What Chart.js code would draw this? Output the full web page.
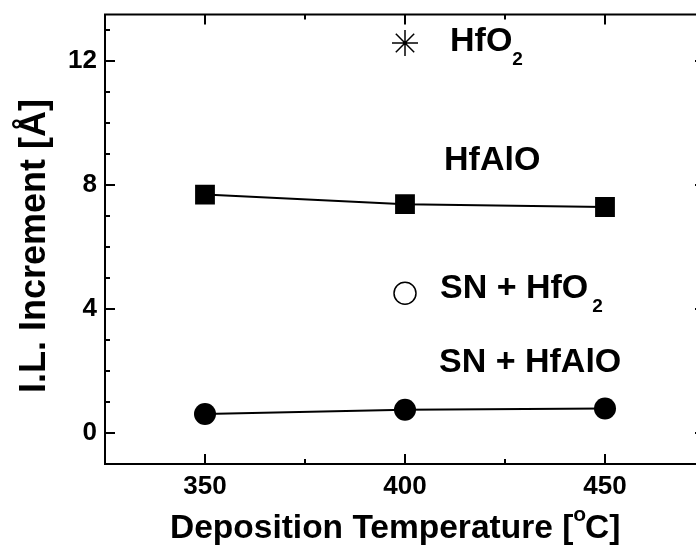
<!DOCTYPE html>
<html>
<head>
<meta charset="utf-8">
<script src="https://cdn.jsdelivr.net/npm/chart.js@4/dist/chart.umd.min.js"></script>
<style>
  html, body { margin: 0; padding: 0; background: #fff; overflow: hidden; }
  #wrap { position: relative; width: 720px; height: 549px; }
</style>
</head>
<body>
<div id="wrap"><canvas id="c" width="720" height="549"></canvas></div>
<script>
// Interfacial layer increment vs. deposition temperature
const temperatures = [350, 400, 450];
const hfAlO = [7.69, 7.38, 7.29];
const snHfAlO = [0.61, 0.75, 0.79];
const hfO2Temps = [400];
const hfO2 = [12.58];
const snHfO2Temps = [400];
const snHfO2 = [4.51];

const xTicks = [350, 400, 450];
const xMinorTicks = [375, 425];
const yTicks = [0, 4, 8, 12];
const yMinorTicks = [1, 2, 3, 5, 6, 7, 9, 10, 11, 13];

const FONT = 'Liberation Sans, Arial, Helvetica, sans-serif';

function pts(xs, ys) { return xs.map((x, i) => ({ x: x, y: ys[i] })); }

// Box frame with inward major/minor ticks on all four sides
const framePlugin = {
  id: 'frame',
  beforeDatasetsDraw(chart) {
    const { ctx, chartArea: a, scales: { x, y } } = chart;
    ctx.save();
    ctx.strokeStyle = '#000';
    ctx.lineWidth = 2;
    ctx.strokeRect(a.left, a.top, a.right - a.left, a.bottom - a.top);
    ctx.beginPath();
    const xt = (v, len) => {
      const px = x.getPixelForValue(v);
      ctx.moveTo(px, a.bottom); ctx.lineTo(px, a.bottom - len);
      ctx.moveTo(px, a.top); ctx.lineTo(px, a.top + len);
    };
    const yt = (v, len) => {
      const py = y.getPixelForValue(v);
      ctx.moveTo(a.left, py); ctx.lineTo(a.left + len, py);
      ctx.moveTo(a.right, py); ctx.lineTo(a.right - len, py);
    };
    xTicks.forEach(v => xt(v, 10));
    xMinorTicks.forEach(v => xt(v, 5));
    yTicks.forEach(v => yt(v, 10));
    yMinorTicks.forEach(v => yt(v, 5));
    ctx.stroke();
    ctx.restore();
  }
};

// Series labels and axis titles (with sub/superscripts)
function drawRuns(ctx, x, y, runs) {
  let cx = x;
  runs.forEach(r => {
    ctx.font = 'bold ' + r.size + 'px ' + FONT;
    ctx.fillText(r.t, cx, y + (r.dy || 0));
    cx += ctx.measureText(r.t).width + (r.gap || 0);
  });
}

const textPlugin = {
  id: 'texts',
  afterDraw(chart) {
    const { ctx, scales: { x, y } } = chart;
    ctx.save();
    ctx.fillStyle = '#000';
    ctx.textBaseline = 'alphabetic';
    ctx.textAlign = 'left';
    const lx = x.getPixelForValue(400) + 40;

    drawRuns(ctx, lx + 5, y.getPixelForValue(hfO2[0]) + 8, [
      { t: 'HfO', size: 34 }, { t: '2', size: 19, dy: 14 }
    ]);
    drawRuns(ctx, lx - 1, y.getPixelForValue(hfAlO[1]) - 34, [
      { t: 'HfAlO', size: 34 }
    ]);
    drawRuns(ctx, lx - 5, y.getPixelForValue(snHfO2[0]) + 5, [
      { t: 'SN + HfO', size: 34, gap: 4 }, { t: '2', size: 19, dy: 14 }
    ]);
    drawRuns(ctx, lx - 6, y.getPixelForValue(snHfAlO[1]) - 38, [
      { t: 'SN + HfAlO', size: 34 }
    ]);

    // x-axis title
    drawRuns(ctx, 170, 538, [
      { t: 'Deposition Temperature [', size: 33.5 },
      { t: 'o', size: 21, dy: -17, gap: -1 },
      { t: 'C]', size: 33.5 }
    ]);

    // y-axis title
    ctx.translate(45, 393);
    ctx.rotate(-Math.PI / 2);
    drawRuns(ctx, 0, 0, [{ t: 'I.L. Increment [Å]', size: 36 }]);
    ctx.restore();
  }
};

const tickFont = { family: FONT, size: 26, weight: 'bold' };

new Chart(document.getElementById('c'), {
  type: 'scatter',
  data: {
    datasets: [
      {
        label: 'HfAlO',
        data: pts(temperatures, hfAlO),
        showLine: true,
        borderColor: '#000',
        borderWidth: 2,
        backgroundColor: '#000',
        pointStyle: 'rect',
        pointRadius: 14,
        pointBorderWidth: 0
      },
      {
        label: 'SN + HfAlO',
        data: pts(temperatures, snHfAlO),
        showLine: true,
        borderColor: '#000',
        borderWidth: 2,
        backgroundColor: '#000',
        pointStyle: 'circle',
        pointRadius: 11,
        pointBorderWidth: 0
      },
      {
        label: 'HfO2',
        data: pts(hfO2Temps, hfO2),
        showLine: false,
        borderColor: '#000',
        backgroundColor: '#000',
        pointStyle: 'star',
        pointRadius: 13,
        pointBorderWidth: 1.5
      },
      {
        label: 'SN + HfO2',
        data: pts(snHfO2Temps, snHfO2),
        showLine: false,
        borderColor: '#000',
        backgroundColor: '#fff',
        pointStyle: 'circle',
        pointRadius: 11,
        pointBorderWidth: 1.5
      }
    ]
  },
  options: {
    responsive: false,
    animation: false,
    devicePixelRatio: 1,
    layout: { padding: { top: 11, right: 15, left: 0, bottom: 0 } },
    plugins: { legend: { display: false }, tooltip: { enabled: false } },
    scales: {
      x: {
        type: 'linear',
        position: 'bottom',
        min: 325,
        max: 475,
        grid: { display: false, drawTicks: false },
        border: { display: false },
        ticks: { font: tickFont, color: '#000', padding: 7, autoSkip: false, maxRotation: 0 },
        afterBuildTicks: s => { s.ticks = xTicks.map(v => ({ value: v })); },
        afterFit: s => { s.height = 85; s.paddingLeft = 0; s.paddingRight = 0; }
      },
      y: {
        type: 'linear',
        position: 'left',
        min: -1,
        max: 13.5,
        grid: { display: false, drawTicks: false },
        border: { display: false },
        ticks: { font: tickFont, color: '#000', padding: 8, autoSkip: false },
        afterBuildTicks: s => { s.ticks = yTicks.map(v => ({ value: v })); },
        afterFit: s => { s.width = 105; s.paddingTop = 0; s.paddingBottom = 0; }
      }
    }
  },
  plugins: [framePlugin, textPlugin]
});
</script>
</body>
</html>
